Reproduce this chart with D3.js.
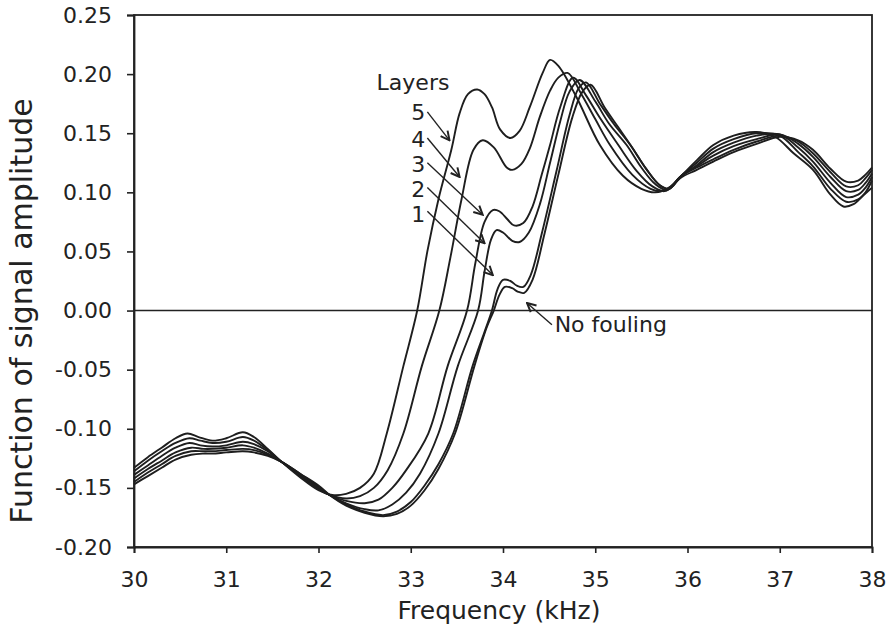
<!DOCTYPE html>
<html>
<head>
<meta charset="utf-8">
<script src="https://cdn.jsdelivr.net/npm/d3@7"></script>
<style>
  body { margin: 0; background: #fff; overflow: hidden; }
  svg { font-family: "DejaVu Sans", sans-serif; display: block; }
</style>
</head>
<body>
<div id="chart"></div>
<script>
// frequency (kHz), signal amplitude function
const noFouling = [[30.0,-0.147],[30.15,-0.140],[30.3,-0.133],[30.45,-0.126],[30.62,-0.122],[30.75,-0.121],[30.85,-0.121],[31.0,-0.120],[31.18,-0.119],[31.3,-0.120],[31.45,-0.123],[31.6,-0.128],[31.8,-0.138],[32.0,-0.148],[32.12,-0.156],[32.3,-0.165],[32.5,-0.171],[32.7,-0.174],[32.85,-0.172],[33.0,-0.165],[33.15,-0.152],[33.3,-0.134],[33.48,-0.104],[33.69,-0.047],[33.82,-0.015],[33.9,0.0],[33.96,0.013],[34.02,0.020],[34.1,0.019],[34.16,0.016],[34.23,0.015],[34.32,0.026],[34.45,0.065],[34.6,0.115],[34.75,0.163],[34.86,0.185],[34.95,0.191],[35.1,0.172],[35.25,0.155],[35.4,0.138],[35.56,0.119],[35.7,0.106],[35.8,0.103],[35.92,0.112],[36.1,0.119],[36.28,0.126],[36.5,0.134],[36.75,0.141],[37.0,0.147],[37.2,0.144],[37.36,0.136],[37.55,0.120],[37.72,0.109],[37.85,0.110],[37.93,0.115],[38.0,0.121]];

const layer1 = [[30.0,-0.145],[30.15,-0.137],[30.3,-0.130],[30.45,-0.123],[30.62,-0.119],[30.75,-0.119],[30.85,-0.119],[31.0,-0.118],[31.18,-0.117],[31.3,-0.118],[31.45,-0.122],[31.6,-0.128],[31.8,-0.138],[32.0,-0.149],[32.12,-0.156],[32.3,-0.164],[32.5,-0.170],[32.7,-0.173],[32.85,-0.170],[33.0,-0.162],[33.15,-0.148],[33.3,-0.130],[33.46,-0.104],[33.67,-0.047],[33.8,-0.018],[33.88,0.0],[33.94,0.018],[34.0,0.026],[34.08,0.025],[34.15,0.021],[34.22,0.020],[34.3,0.030],[34.42,0.065],[34.58,0.118],[34.72,0.165],[34.82,0.188],[34.9,0.193],[35.05,0.175],[35.2,0.158],[35.38,0.140],[35.55,0.120],[35.7,0.106],[35.8,0.103],[35.92,0.113],[36.1,0.121],[36.28,0.128],[36.5,0.136],[36.75,0.143],[37.0,0.148],[37.2,0.143],[37.36,0.133],[37.55,0.117],[37.72,0.105],[37.85,0.106],[37.93,0.112],[38.0,0.119]];

const layer2 = [[30.0,-0.142],[30.15,-0.134],[30.3,-0.127],[30.45,-0.120],[30.62,-0.116],[30.75,-0.117],[30.85,-0.117],[31.0,-0.116],[31.18,-0.114],[31.3,-0.116],[31.45,-0.121],[31.6,-0.128],[31.8,-0.139],[32.0,-0.150],[32.12,-0.156],[32.3,-0.163],[32.5,-0.168],[32.65,-0.169],[32.8,-0.164],[32.95,-0.154],[33.1,-0.138],[33.3,-0.104],[33.51,-0.047],[33.73,0.0],[33.8,0.033],[33.87,0.060],[33.93,0.068],[34.0,0.066],[34.1,0.059],[34.18,0.058],[34.28,0.066],[34.4,0.090],[34.51,0.125],[34.62,0.160],[34.72,0.185],[34.83,0.195],[35.0,0.177],[35.15,0.158],[35.34,0.140],[35.5,0.121],[35.65,0.107],[35.78,0.102],[35.92,0.113],[36.1,0.122],[36.28,0.131],[36.5,0.139],[36.75,0.145],[37.0,0.149],[37.2,0.141],[37.36,0.130],[37.55,0.113],[37.72,0.101],[37.85,0.102],[37.93,0.108],[38.0,0.116]];

const layer3 = [[30.0,-0.139],[30.15,-0.131],[30.3,-0.123],[30.45,-0.116],[30.6,-0.112],[30.72,-0.114],[30.85,-0.115],[31.0,-0.114],[31.18,-0.111],[31.3,-0.113],[31.45,-0.119],[31.6,-0.128],[31.8,-0.139],[32.0,-0.150],[32.12,-0.156],[32.3,-0.161],[32.5,-0.163],[32.65,-0.160],[32.8,-0.150],[32.95,-0.135],[33.19,-0.104],[33.4,-0.047],[33.61,0.0],[33.7,0.040],[33.8,0.075],[33.89,0.085],[33.96,0.084],[34.05,0.077],[34.12,0.072],[34.22,0.074],[34.32,0.088],[34.42,0.115],[34.51,0.140],[34.62,0.172],[34.76,0.197],[34.9,0.182],[35.05,0.163],[35.25,0.140],[35.45,0.118],[35.62,0.105],[35.75,0.101],[35.85,0.106],[35.92,0.113],[36.1,0.123],[36.28,0.134],[36.5,0.142],[36.75,0.148],[37.0,0.149],[37.2,0.138],[37.36,0.126],[37.55,0.108],[37.72,0.096],[37.85,0.098],[37.93,0.104],[38.0,0.113]];

const layer4 = [[30.0,-0.136],[30.15,-0.127],[30.3,-0.119],[30.45,-0.112],[30.6,-0.108],[30.72,-0.110],[30.85,-0.112],[31.0,-0.111],[31.18,-0.107],[31.3,-0.110],[31.45,-0.118],[31.6,-0.128],[31.8,-0.140],[32.0,-0.151],[32.12,-0.156],[32.3,-0.159],[32.45,-0.157],[32.6,-0.150],[32.75,-0.135],[32.92,-0.104],[33.12,-0.047],[33.31,0.0],[33.43,0.045],[33.55,0.094],[33.68,0.136],[33.78,0.144],[33.9,0.138],[34.04,0.121],[34.1,0.119],[34.2,0.124],[34.29,0.137],[34.4,0.164],[34.51,0.186],[34.6,0.197],[34.7,0.201],[34.85,0.183],[35.0,0.162],[35.16,0.140],[35.4,0.115],[35.6,0.103],[35.72,0.101],[35.82,0.105],[35.92,0.113],[36.1,0.125],[36.28,0.137],[36.5,0.145],[36.75,0.150],[37.0,0.148],[37.2,0.134],[37.36,0.122],[37.55,0.103],[37.72,0.092],[37.85,0.094],[37.93,0.100],[38.0,0.110]];

const layer5 = [[30.0,-0.133],[30.15,-0.124],[30.3,-0.116],[30.45,-0.108],[30.58,-0.104],[30.7,-0.107],[30.85,-0.110],[31.0,-0.108],[31.18,-0.103],[31.3,-0.107],[31.45,-0.117],[31.6,-0.128],[31.8,-0.141],[32.0,-0.152],[32.15,-0.156],[32.3,-0.155],[32.45,-0.150],[32.6,-0.138],[32.74,-0.104],[32.92,-0.047],[33.07,0.0],[33.18,0.050],[33.3,0.094],[33.44,0.136],[33.53,0.167],[33.62,0.183],[33.72,0.187],[33.8,0.183],[33.88,0.172],[33.97,0.153],[34.08,0.146],[34.18,0.152],[34.29,0.172],[34.43,0.201],[34.51,0.212],[34.6,0.207],[34.8,0.180],[35.05,0.140],[35.3,0.114],[35.5,0.103],[35.65,0.100],[35.8,0.104],[35.92,0.113],[36.1,0.127],[36.28,0.140],[36.5,0.148],[36.75,0.151],[36.95,0.147],[37.15,0.133],[37.36,0.119],[37.55,0.098],[37.69,0.088],[37.8,0.090],[37.9,0.097],[38.0,0.104]];

const xTicks = [30, 31, 32, 33, 34, 35, 36, 37, 38];
const yTicks = [-0.20, -0.15, -0.10, -0.05, 0.00, 0.05, 0.10, 0.15, 0.20, 0.25];

// layer labels: text, label position, arrow start, arrow tip (data units)
const layerLabels = ["5", "4", "3", "2", "1"];
const labelPos = [[33.08, 0.161], [33.08, 0.138], [33.08, 0.117], [33.08, 0.096], [33.08, 0.075]];
const arrowFrom = [[33.18, 0.168], [33.18, 0.146], [33.18, 0.125], [33.18, 0.104], [33.18, 0.084]];
const arrowTo = [[33.42, 0.144], [33.53, 0.113], [33.78, 0.081], [33.80, 0.057], [33.89, 0.030]];

const width = 890,
      height = 630,
      margin = { top: 15, right: 18, bottom: 83, left: 134 };
const innerWidth = width - margin.left - margin.right,
      innerHeight = height - margin.top - margin.bottom;

const svg = d3.select("#chart").append("svg")
    .attr("width", width)
    .attr("height", height);

svg.append("defs").append("marker")
    .attr("id", "head")
    .attr("viewBox", "0 0 10 10")
    .attr("refX", 9)
    .attr("refY", 5)
    .attr("markerWidth", 11)
    .attr("markerHeight", 11)
    .attr("markerUnits", "userSpaceOnUse")
    .attr("orient", "auto")
  .append("path")
    .attr("d", "M1,1 L9,5 L1,9")
    .attr("fill", "none")
    .attr("stroke", "#222")
    .attr("stroke-width", 1.8);

const g = svg.append("g")
    .attr("transform", "translate(" + margin.left + "," + margin.top + ")");

const x = d3.scaleLinear().domain([30, 38]).range([0, innerWidth]);
const y = d3.scaleLinear().domain([-0.20, 0.25]).range([innerHeight, 0]);

// frame
g.append("rect")
    .attr("width", innerWidth)
    .attr("height", innerHeight)
    .attr("fill", "none")
    .attr("stroke", "#222")
    .attr("stroke-width", 1.8);

// zero line
g.append("line")
    .attr("x1", 0).attr("x2", innerWidth)
    .attr("y1", y(0)).attr("y2", y(0))
    .attr("stroke", "#222")
    .attr("stroke-width", 1.6);

const fmtY = d => d3.format(".2f")(d).replace("\u2212", "-");

const xAxis = g.append("g")
    .attr("transform", "translate(0," + innerHeight + ")")
    .call(d3.axisBottom(x).tickValues(xTicks).tickFormat(d3.format("d")).tickSize(6).tickPadding(18));

const yAxis = g.append("g")
    .call(d3.axisLeft(y).tickValues(yTicks).tickFormat(fmtY).tickSize(7).tickPadding(15));

[xAxis, yAxis].forEach(function(a) {
    a.attr("font-size", null).attr("font-family", null);
    a.select(".domain").attr("stroke", "#222").attr("stroke-width", 1.8);
    a.selectAll(".tick line").attr("stroke", "#222").attr("stroke-width", 1.6);
    a.selectAll(".tick text")
        .attr("fill", "#222")
        .style("font-size", "22px");
});

const line = d3.line()
    .x(d => x(d[0]))
    .y(d => y(d[1]))
    .curve(d3.curveCatmullRom.alpha(0.5));

const series = [noFouling, layer1, layer2, layer3, layer4, layer5];

g.selectAll(".curve")
    .data(series)
    .enter().append("path")
    .attr("class", "curve")
    .attr("d", line)
    .attr("fill", "none")
    .attr("stroke", "#1e1e1e")
    .attr("stroke-width", 1.9)
    .attr("stroke-linejoin", "round");

// annotations
g.append("text")
    .attr("x", x(32.63))
    .attr("y", y(0.1866))
    .attr("fill", "#222")
    .style("font-size", "22px")
    .text("Layers");

layerLabels.forEach(function(d, i) {
    g.append("text")
        .attr("x", x(labelPos[i][0]))
        .attr("y", y(labelPos[i][1]))
        .attr("text-anchor", "middle")
        .attr("fill", "#222")
        .style("font-size", "22px")
        .text(d);

    g.append("line")
        .attr("x1", x(arrowFrom[i][0])).attr("y1", y(arrowFrom[i][1]))
        .attr("x2", x(arrowTo[i][0])).attr("y2", y(arrowTo[i][1]))
        .attr("stroke", "#222")
        .attr("stroke-width", 1.4)
        .attr("marker-end", "url(#head)");
});

g.append("line")
    .attr("x1", x(34.53)).attr("y1", y(-0.012))
    .attr("x2", x(34.26)).attr("y2", y(0.0064))
    .attr("stroke", "#222")
    .attr("stroke-width", 1.4)
    .attr("marker-end", "url(#head)");

g.append("text")
    .attr("x", x(34.56))
    .attr("y", y(-0.018))
    .attr("fill", "#222")
    .style("font-size", "22px")
    .text("No fouling");

// axis titles
svg.append("text")
    .attr("x", margin.left + innerWidth / 2 - 4)
    .attr("y", 619)
    .attr("text-anchor", "middle")
    .attr("fill", "#222")
    .style("font-size", "25px")
    .text("Frequency (kHz)");

svg.append("text")
    .attr("transform", "translate(32," + 311 + ") rotate(-90)")
    .attr("text-anchor", "middle")
    .attr("fill", "#222")
    .style("font-size", "30px")
    .text("Function of signal amplitude");
</script>
</body>
</html>
